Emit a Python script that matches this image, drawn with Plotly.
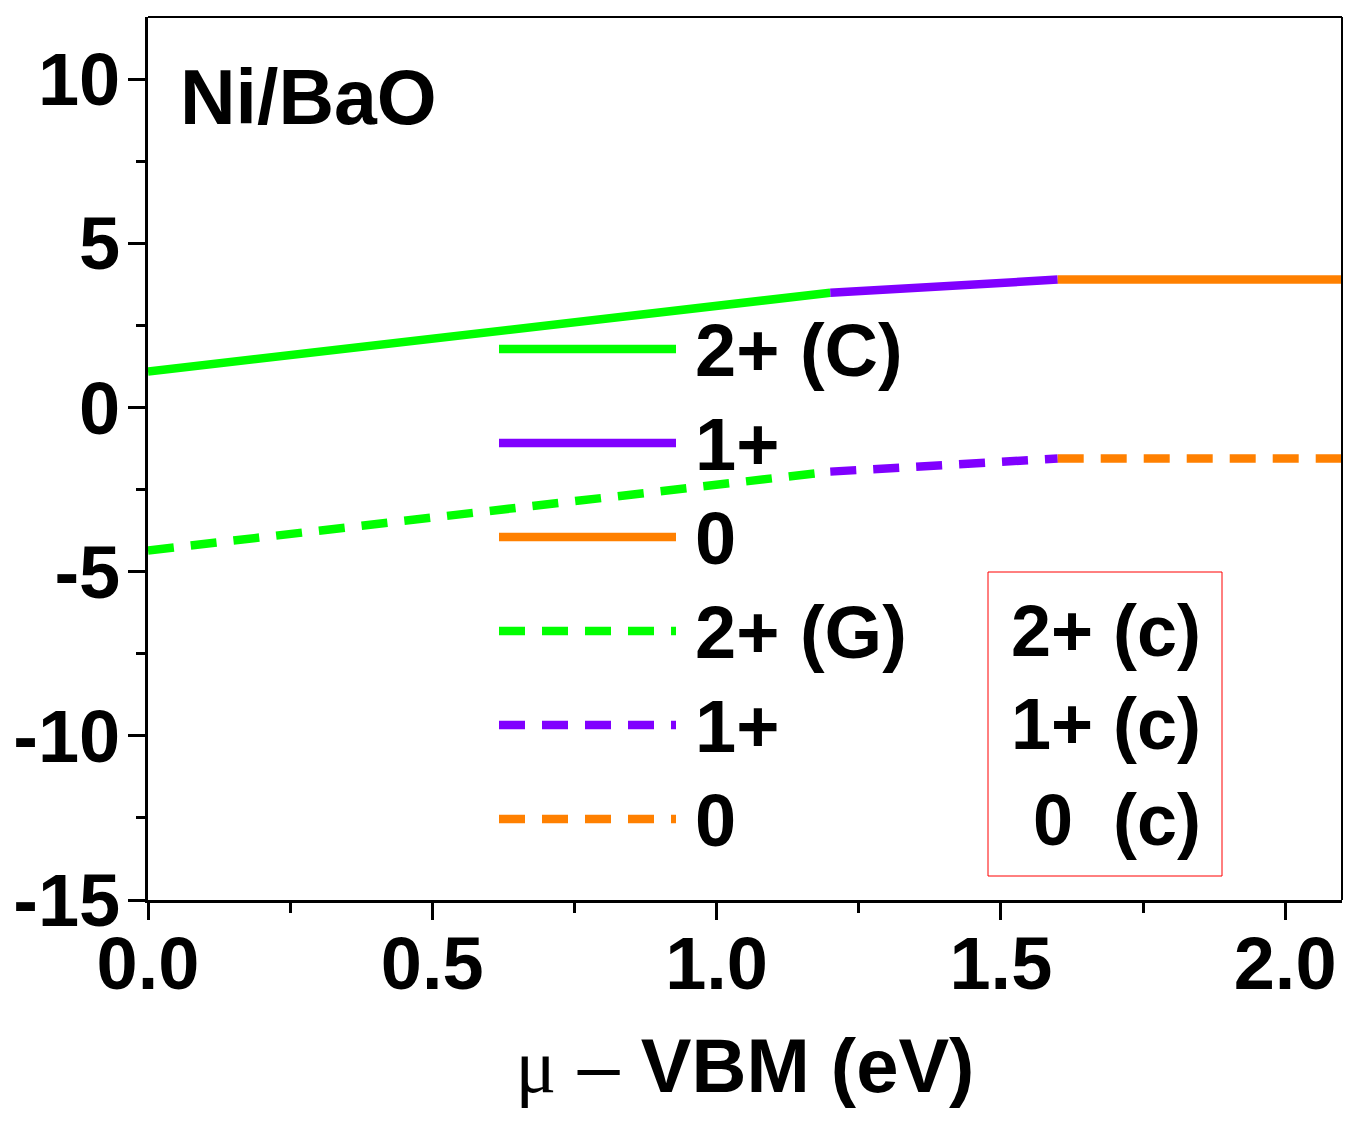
import plotly.graph_objects as go

# ---- data ----
names = ["2+ (C)", "1+", "0", "2+ (G)", "1+", "0"]
seg_x = [[0.0, 1.2], [1.2, 1.6], [1.6, 2.1], [0.0, 1.2], [1.2, 1.6], [1.6, 2.1]]
seg_y = [[1.1, 3.5], [3.5, 3.9], [3.9, 3.9], [-4.35, -1.95], [-1.95, -1.55], [-1.55, -1.55]]
colors = ["#00FF00", "#8000FF", "#FF8000", "#00FF00", "#8000FF", "#FF8000"]
dashes = ["solid", "solid", "solid", "26px,17px", "26px,17px", "26px,17px"]
box_labels = ["2+ (c)", "1+ (c)", "0&nbsp;&nbsp;(c)"]
x_ticks = [0.0, 0.5, 1.0, 1.5, 2.0]
x_ticktext = ["0.0", "0.5", "1.0", "1.5", "2.0"]
y_ticks = [-15, -10, -5, 0, 5, 10]
y_ticktext = ["-15", "-10", "-5", "0", "5", "10"]

FONT = "Liberation Sans, Arial, sans-serif"

fig = go.Figure()
for n, xs, ys, c, d in zip(names, seg_x, seg_y, colors, dashes):
    fig.add_trace(go.Scatter(x=xs, y=ys, mode="lines",
                             name="\u2009<span style='font-size:74px'>" + n + "</span>",
                             line=dict(color=c, width=8.5, dash=d)))

L, R, T, B = 148, 22, 17, 223
W, H = 1364, 1123
pw, ph = W - L - R, H - T - B

def px(xp):
    return (xp - L) / pw

def py(yp):
    return (H - B - yp) / ph

axis_common = dict(showgrid=False, zeroline=False, showline=True, linecolor="black",
                   linewidth=3, ticks="outside", ticklen=17, tickwidth=3, tickcolor="black",
                   automargin=False,
                   tickfont=dict(family=FONT, size=74, color="black", weight="bold"))

fig.update_xaxes(range=[0, 2.1], tickvals=x_ticks, ticktext=x_ticktext,
                 ticklabelstandoff=-20,
                 minor=dict(dtick=0.25, ticks="outside", ticklen=10, tickwidth=3, tickcolor="black"),
                 title=dict(text="<span style='font-family:Liberation Serif'>μ</span> – <b>VBM (eV)</b>",
                            font=dict(family=FONT, size=76, color="black"), standoff=36),
                 **axis_common)
fig.update_yaxes(range=[-15, 11.9], tickvals=y_ticks, ticktext=y_ticktext,
                 ticklabelstandoff=-7,
                 minor=dict(dtick=2.5, ticks="outside", ticklen=9, tickwidth=3, tickcolor="black"),
                 **axis_common)

# top and right frame
fig.add_shape(type="line", xref="paper", yref="paper", x0=0, x1=1, y0=1, y1=1,
              line=dict(color="black", width=2))
fig.add_shape(type="line", xref="paper", yref="paper", x0=1, x1=1, y0=0, y1=1,
              line=dict(color="black", width=2))

# red box
fig.add_shape(type="rect", xref="paper", yref="paper", x0=px(988), x1=px(1222),
              y0=py(876), y1=py(572), line=dict(color="red", width=1))
for lab, yp in zip(box_labels, [631, 724, 820]):
    fig.add_annotation(text="<b>" + lab + "</b>", xref="paper", yref="paper",
                       x=px(1203), y=py(yp), xanchor="right", yanchor="middle",
                       showarrow=False, font=dict(family=FONT, size=72, color="black"))

fig.add_annotation(text="<b>Ni/BaO</b>", xref="paper", yref="paper", x=px(178), y=py(97),
                   xanchor="left", yanchor="middle", showarrow=False,
                   font=dict(family=FONT, size=77, color="black"))

fig.update_layout(
    width=W, height=H, margin=dict(l=L, r=R, t=T, b=B),
    paper_bgcolor="white", plot_bgcolor="white",
    legend=dict(x=px(494), y=py(297), xanchor="left", yanchor="top",
                bgcolor="rgba(0,0,0,0)", itemwidth=177,
                font=dict(family=FONT, size=70, color="black", weight="bold"),
                tracegroupgap=0),
    showlegend=True,
)

fig.write_html("out.html")
